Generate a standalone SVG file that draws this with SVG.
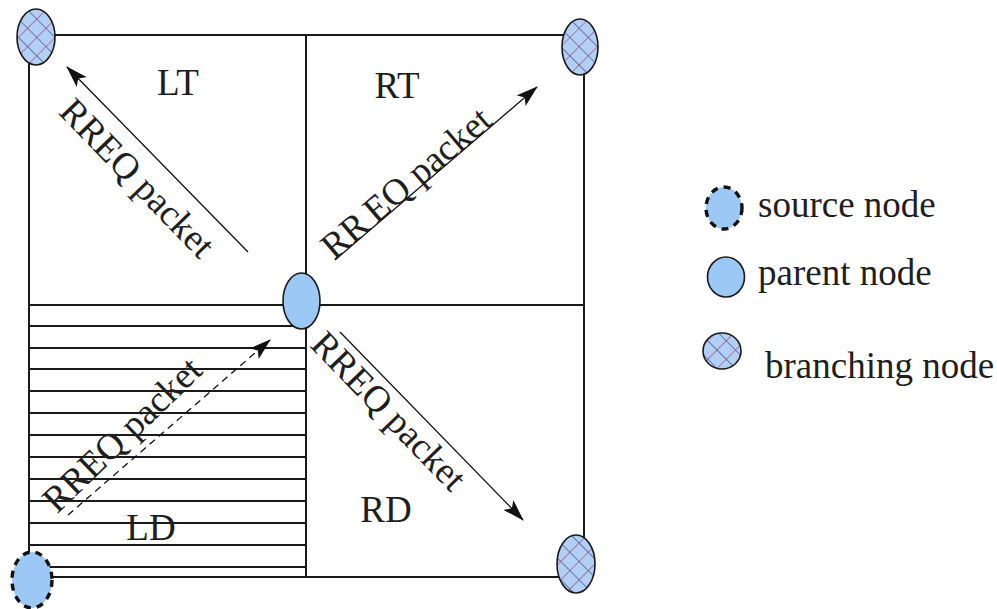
<svg xmlns="http://www.w3.org/2000/svg" width="997" height="609" viewBox="0 0 997 609">
  <style>
    .grid { stroke: #1a1a1a; stroke-width: 2; fill: none; }
    .hatch { stroke: #1a1a1a; stroke-width: 2; }
    .arrow { stroke: #111; stroke-width: 1.3; fill: none; marker-end: url(#head); }
    .dashed { stroke-dasharray: 7 5; }
    .lbl { font-family: "Liberation Serif", "Times New Roman", serif; font-size: 37px; fill: #1e1e1e; }
    .node { fill: #9cc8f6; stroke: #1a1a1a; stroke-width: 1.6; }
    .branch { fill: url(#cross); stroke: #1a1a1a; stroke-width: 1.6; }
    .source { fill: #9cc8f6; stroke: #111; stroke-width: 3.4; stroke-dasharray: 7 6; }
  </style>
  <defs>
    <marker id="head" markerWidth="22" markerHeight="14" refX="21" refY="7" orient="auto" markerUnits="userSpaceOnUse">
      <path d="M0,0 L22,7 L0,14 L5,7 Z" fill="#111"/>
    </marker>
    <!-- cross-hatched fill for branching nodes -->
    <pattern id="cross" width="13" height="13" patternUnits="userSpaceOnUse" patternTransform="rotate(45)">
      <rect width="13" height="13" fill="#b2d0f6"/>
      <line x1="0" y1="0" x2="13" y2="0" stroke="#2e2a66" stroke-width="1.1"/>
      <line x1="0" y1="0" x2="0" y2="13" stroke="#9a3064" stroke-width="1.1"/>
    </pattern>
  </defs>

  <rect width="997" height="609" fill="#ffffff"/>

  <!-- quadrant grid -->
  <g id="grid">
    <rect class="grid" x="29" y="35" width="555" height="542"/>
    <line class="grid" x1="306" y1="35" x2="306" y2="577"/>
    <line class="grid" x1="29" y1="305" x2="584" y2="305"/>
  </g>

  <!-- horizontal shading of the LD quadrant -->
  <g id="ld-shading">
    <line class="hatch" x1="29" y1="326" x2="306" y2="326"/>
    <line class="hatch" x1="29" y1="348" x2="306" y2="348"/>
    <line class="hatch" x1="29" y1="369" x2="306" y2="369"/>
    <line class="hatch" x1="29" y1="391" x2="306" y2="391"/>
    <line class="hatch" x1="29" y1="413" x2="306" y2="413"/>
    <line class="hatch" x1="29" y1="435" x2="306" y2="435"/>
    <line class="hatch" x1="29" y1="457" x2="306" y2="457"/>
    <line class="hatch" x1="29" y1="479" x2="306" y2="479"/>
    <line class="hatch" x1="29" y1="501" x2="306" y2="501"/>
    <line class="hatch" x1="29" y1="523" x2="306" y2="523"/>
    <line class="hatch" x1="29" y1="545" x2="306" y2="545"/>
    <line class="hatch" x1="29" y1="567" x2="306" y2="567"/>
  </g>

  <!-- RREQ propagation arrows -->
  <g id="connectors">
    <path class="arrow" d="M248,252 L67,67"/>
    <path class="arrow" d="M335,260 L537,87"/>
    <path class="arrow dashed" d="M68,515 L270,340"/>
    <path class="arrow" d="M340,332 L523,520"/>
  </g>

  <!-- quadrant names and arrow labels -->
  <g id="labels">
    <text class="lbl" x="178" y="95" text-anchor="middle">LT</text>
    <text class="lbl" x="397" y="98" text-anchor="middle">RT</text>
    <text class="lbl" x="151" y="540" text-anchor="middle">LD</text>
    <text class="lbl" x="386" y="522" text-anchor="middle">RD</text>
    <text class="lbl" text-anchor="middle" transform="translate(128.5,186.5) rotate(46)">RREQ packet</text>
    <text class="lbl" text-anchor="middle" transform="translate(414,192) rotate(-40.6)">RR<tspan dx="6">EQ packet</tspan></text>
    <text class="lbl" text-anchor="middle" transform="translate(130.5,443.5) rotate(-44)">RREQ packet</text>
    <text class="lbl" text-anchor="middle" transform="translate(380,419.5) rotate(46)">RREQ packet</text>
  </g>

  <!-- nodes -->
  <g id="branch-lt"><ellipse class="branch" cx="36" cy="37" rx="19" ry="28"/></g>
  <g id="branch-rt"><ellipse class="branch" cx="580" cy="47" rx="18" ry="28"/></g>
  <g id="parent"><ellipse class="node" cx="301.5" cy="301" rx="18.5" ry="28"/></g>
  <g id="source"><ellipse class="source" cx="32" cy="580" rx="20" ry="28"/></g>
  <g id="branch-rd"><ellipse class="branch" cx="576" cy="564" rx="19" ry="29"/></g>

  <!-- legend -->
  <g id="legend">
    <g id="legend-source">
      <ellipse class="source" cx="724" cy="208" rx="18" ry="21"/>
      <text class="lbl" x="758" y="217">source node</text>
    </g>
    <g id="legend-parent">
      <ellipse class="node" cx="726" cy="277" rx="18.5" ry="20"/>
      <text class="lbl" x="758" y="285">parent node</text>
    </g>
    <g id="legend-branch">
      <ellipse class="branch" cx="722" cy="351" rx="19" ry="18"/>
      <text class="lbl" x="765" y="378">branching node</text>
    </g>
  </g>
</svg>
